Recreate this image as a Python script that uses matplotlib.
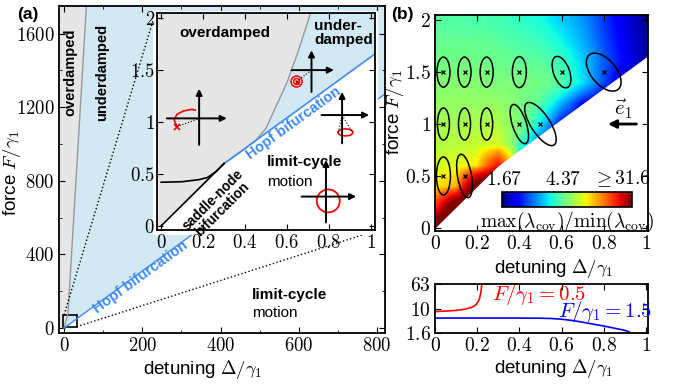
import numpy as np
import matplotlib
matplotlib.use('Agg')
import matplotlib.pyplot as plt
import matplotlib.colors as mcolors
from matplotlib.patches import Ellipse, Rectangle
from matplotlib.transforms import ScaledTranslation

plt.rcParams['font.family'] = ['Liberation Sans', 'DejaVu Sans']
plt.rcParams['mathtext.fontset'] = 'cm'
plt.rcParams['xtick.direction'] = 'in'
plt.rcParams['ytick.direction'] = 'in'
plt.rcParams['xtick.top'] = True
plt.rcParams['ytick.right'] = True

GRAY = '#e6e6e6'
LBLUE = '#d2e8f3'
HBLUE = '#3d8af0'

# ---- (a) main phase diagram
main_gray_x = [0, 10, 58.4]          # over/underdamped border
main_gray_y = [0, 80, 1800]
main_hopf_x = [0, 900]               # Hopf line
main_hopf_y = [0, 1396]
zoom_box = (-2, 7, 34, 64)           # x, y, w, h
dot1_x, dot1_y = [0, 233], [71, 1712]
dot2_x, dot2_y = [32, 790], [7, 525]
main_xticks = [0, 200, 400, 600, 800]
main_yticks = [0, 400, 800, 1200, 1600]

# ---- (a) inset
sn_x, sn_y = [0, 0.3], [0, 0.6]
od_x = [0.3, 0.35, 0.4, 0.45, 0.5, 0.55, 0.6, 0.65, 0.7, 0.72]
od_y = [0.6, 0.67, 0.74, 0.82, 0.94, 1.16, 1.38, 1.66, 1.97, 2.1]
hopf_x, hopf_y = [0.3, 1.05], [0.6, 1.70]
bist_x = [0, 0.1, 0.18, 0.22, 0.26, 0.3]
bist_y = [0.42, 0.425, 0.445, 0.465, 0.52, 0.6]
inset_xticks = [0, 0.2, 0.4, 0.6, 0.8, 1]
inset_yticks = [0, 0.5, 1, 1.5, 2]
# small phase-space sketches: centre, horizontal arrow, vertical arrow
icon_cx = [0.181, 0.717, 0.863, 0.786]
icon_cy = [1.035, 1.5, 1.067, 0.282]
icon_x0 = [0.027, 0.622, 0.765, 0.67]
icon_x1 = [0.313, 0.824, 0.992, 0.93]
icon_y0 = [0.78, 1.29, 0.795, 0.032]
icon_y1 = [1.32, 1.69, 1.29, 0.635]
hook_x = [0.075, 0.062, 0.075, 0.106, 0.146, 0.162]
hook_y = [0.955, 1.02, 1.074, 1.106, 1.122, 1.115]
spiral_c = (0.646, 1.39)
small_cycle_c = (0.879, 0.90)
big_cycle_c = (0.797, 0.24)

# ---- (b) covariance eigenvalue ratio map
det_grid = [0, 0.1, 0.2, 0.3, 0.4, 0.5, 0.6, 0.7, 0.8, 0.9, 1.0]
force_grid = [0, 0.2, 0.4, 0.6, 0.8, 1.0, 1.2, 1.4, 1.6, 1.8, 2.0]
ratio_grid = [
    [40, 40, 40, 40, 21.8, 7.1, 3.09, 2.05, 1.67, 1.67, 1.67],
    [18.0, 40, 40, 40, 18.0, 4.89, 2.51, 1.85, 1.67, 1.67, 1.67],
    [9.0, 11.0, 40, 40, 10.3, 3.79, 2.27, 1.85, 1.67, 1.67, 1.67],
    [7.1, 7.65, 9.0, 21.8, 2.79, 3.09, 2.05, 1.78, 1.67, 1.67, 1.67],
    [6.3, 6.5, 6.84, 7.4, 3.95, 2.51, 2.05, 1.74, 1.67, 1.67, 1.67],
    [5.89, 5.89, 6.11, 6.11, 4.89, 3.42, 2.13, 1.85, 1.67, 1.67, 1.67],
    [5.47, 5.47, 5.47, 5.47, 4.89, 4.19, 3.09, 2.13, 1.78, 1.67, 1.67],
    [5.07, 5.07, 5.07, 4.89, 4.89, 4.71, 4.19, 3.42, 2.51, 1.78, 1.67],
    [4.71, 4.71, 4.71, 4.54, 4.37, 4.28, 3.95, 3.28, 2.62, 2.13, 1.78],
    [4.37, 4.37, 4.37, 4.28, 4.11, 3.95, 3.56, 3.09, 2.51, 2.05, 1.78],
    [4.19, 4.19, 4.11, 4.03, 3.86, 3.63, 3.28, 2.92, 2.41, 2.01, 1.74],
]
bnd_x = [-0.01, 0.3, 1.05]
bnd_y = [-0.02, 0.6, 1.718]
cb_vals = [1.67, 4.37, 31.6]
cb_pos = [0.0, 0.47, 1.0]
cb_text = ['$1.67$', '$4.37$', r'$\geq 31.6$']
cb_text_x = [0.02, 0.47, 0.92]
# noise ellipses: centre, size in pixels, angle
ell_x = [0.04, 0.14, 0.245, 0.4, 0.6, 0.8, 0.04, 0.14, 0.245, 0.4, 0.5, 0.04, 0.14]
ell_y = [1.5, 1.5, 1.5, 1.5, 1.5, 1.5, 1, 1, 1, 1, 1, 0.5, 0.5]
ell_w = [13, 13, 13, 14, 16, 45, 12, 12, 12, 14, 50, 14, 14]
ell_h = [30, 30, 30, 31, 33, 25, 32, 32, 32, 41, 19, 38, 44]
ell_a = [0, 0, 0, 0, 20, -50, 0, 0, 0, 18, -57, 0, 10]
b_xticks = [0, 0.2, 0.4, 0.6, 0.8, 1]
b_yticks = [0, 0.5, 1, 1.5, 2]

# ---- (b) bottom: ratio along two cuts
red_x = [0, 0.05, 0.1, 0.14, 0.17, 0.19, 0.2, 0.21, 0.217, 0.222]
red_y = [8.0, 8.3, 8.7, 9.5, 10.7, 12.5, 15, 20, 32, 63]
blue_x = [0, 0.2, 0.4, 0.5, 0.55, 0.6, 0.65, 0.7, 0.75, 0.8, 0.85, 0.9, 0.92]
blue_y = [4.9, 4.9, 4.9, 4.85, 4.75, 4.5, 4.1, 3.6, 3.1, 2.7, 2.3, 1.95, 1.75]

W, H = 678, 386
fig = plt.figure(figsize=(W / 100, H / 100), dpi=100)


def box(l, t, r, b):
    return [l / W, 1 - b / H, (r - l) / W, (b - t) / H]


def mlab(v):
    return ['$%g$' % t for t in v]


def style(a, size=13):
    a.tick_params(which='both', direction='in', top=True, right=True, labelsize=size, pad=3)
    a.tick_params(which='major', length=4, width=0.8)
    a.tick_params(which='minor', length=2, width=0.6)
    for s in a.spines.values():
        s.set_linewidth(1.3)


def px_patch(a, x, y, w, h, ang=0, **kw):
    tr = fig.dpi_scale_trans + ScaledTranslation(x, y, a.transData)
    a.add_patch(Ellipse((0, 0), w / 100, h / 100, angle=ang, transform=tr, **kw))


# ================= (a) =================
ax = fig.add_axes(box(59, 6, 385, 333))
ax.fill_betweenx(main_gray_y, -50, main_gray_x, color=GRAY, lw=0)
ax.fill(main_gray_x + [900, 900, 0], main_gray_y + [1800, main_hopf_y[1], 0], color=LBLUE, lw=0)
ax.plot(main_gray_x, main_gray_y, color='#999999', lw=1)
ax.plot(main_hopf_x, main_hopf_y, color=HBLUE, lw=1)
ax.add_patch(Rectangle(zoom_box[:2], zoom_box[2], zoom_box[3], fill=False, ec='k', lw=1.2))
ax.plot(dot1_x, dot1_y, 'k:', lw=1)
ax.plot(dot2_x, dot2_y, 'k:', lw=1)
ax.text(15, 1390, 'overdamped', rotation=90, ha='center', va='center', fontweight='bold', fontsize=10.5)
ax.text(97, 1390, 'underdamped', rotation=90, ha='center', va='center', fontweight='bold', fontsize=10.5)
ax.text(196, 275, 'Hopf bifurcation', rotation=36, ha='center', va='center', rotation_mode='anchor',
        color=HBLUE, fontweight='bold', fontsize=10.5)
ax.text(481, 179, 'limit-cycle', ha='left', va='center', fontweight='bold', fontsize=11)
ax.text(481, 81, 'motion', ha='left', va='center', fontsize=11)
ax.set_xlim(-13, 820)
ax.set_ylim(-27, 1750)
ax.set_xticks(main_xticks, mlab(main_xticks))
ax.set_yticks(main_yticks, mlab(main_yticks))
ax.set_xticks([100, 300, 500, 700], minor=True)
ax.set_yticks([200, 600, 1000, 1400], minor=True)
style(ax, 13.5)
ax.set_xlabel(r'detuning $\Delta/\gamma_1$', fontsize=13.5)
ax.set_ylabel(r'force $F/\gamma_1$', fontsize=13.5)
ax.xaxis.set_label_coords(0.44, -0.075)
ax.yaxis.set_label_coords(-0.11, 0.49)

# inset
fig.patches.append(Rectangle((153 / W, 1 - 235 / H), 225 / W, 224 / H, transform=fig.transFigure,
                             facecolor='white', edgecolor='none', zorder=2))
axi = fig.add_axes(box(157, 13, 375, 230))
axi.set_zorder(3)
axi.fill([-0.05, 0] + od_x + [-0.05], [0, 0] + od_y + [2.1], color=GRAY, lw=0)
axi.fill(od_x + [1.05, 1.05], od_y + [2.1, hopf_y[1]], color=LBLUE, lw=0)
axi.plot(od_x, od_y, color='#999999', lw=1)
axi.plot(hopf_x, hopf_y, color=HBLUE, lw=1.2)
axi.plot(sn_x, sn_y, color='k', lw=1.2)
axi.plot(bist_x, bist_y, color='k', lw=1.2)
for cx, cy, x0, x1, y0, y1 in zip(icon_cx, icon_cy, icon_x0, icon_x1, icon_y0, icon_y1):
    ap = dict(arrowstyle='-|>', color='k', lw=1.4, mutation_scale=9, shrinkA=0, shrinkB=0)
    axi.annotate('', xy=(x1, cy), xytext=(x0, cy), arrowprops=ap)
    axi.annotate('', xy=(cx, y1), xytext=(cx, y0), arrowprops=ap)
axi.plot(hook_x, hook_y, color='red', lw=1.2)
axi.plot(hook_x[0], hook_y[0], 'x', color='red', ms=4, mew=1.2)
axi.plot([hook_x[0], icon_cx[0]], [hook_y[0], icon_cy[0]], 'k:', lw=0.8)
px_patch(axi, *spiral_c, 11, 11, fill=False, ec='red', lw=1.1)
px_patch(axi, *spiral_c, 6, 6, fill=False, ec='red', lw=1.1)
axi.plot(*spiral_c, 'x', color='red', ms=3, mew=1)
axi.plot([spiral_c[0], icon_cx[1]], [spiral_c[1], icon_cy[1]], 'k:', lw=0.8)
px_patch(axi, *small_cycle_c, 15, 7, fill=False, ec='red', lw=1.2)
axi.plot([small_cycle_c[0] - 0.034, icon_cx[2], small_cycle_c[0] + 0.034],
         [small_cycle_c[1], icon_cy[2], small_cycle_c[1]], 'k:', lw=0.8)
px_patch(axi, *big_cycle_c, 23, 23, fill=False, ec='red', lw=1.3)
axi.text(0.305, 1.86, 'overdamped', ha='center', va='center', fontweight='bold', fontsize=11)
axi.text(0.73, 1.86, 'under-\ndamped', ha='left', va='center', fontweight='bold', fontsize=11,
         linespacing=1.0)
axi.text(0.63, 0.99, 'Hopf bifurcation', rotation=36, ha='center', va='center', rotation_mode='anchor',
         color=HBLUE, fontweight='bold', fontsize=10.5)
axi.text(0.505, 0.615, 'limit-cycle', ha='left', va='center', fontweight='bold', fontsize=11)
axi.text(0.505, 0.42, 'motion', ha='left', va='center', fontsize=11)
axi.text(0.27, 0.205, 'saddle-node\nbifurcation', rotation=45, ha='center', va='center',
         rotation_mode='anchor', fontweight='bold', fontsize=9.8, linespacing=0.95)
axi.set_xlim(-0.02, 1.02)
axi.set_ylim(-0.04, 2.05)
axi.set_xticks(inset_xticks, mlab(inset_xticks))
axi.set_yticks(inset_yticks, mlab(inset_yticks))
style(axi, 13.5)
axi.tick_params(axis='y', pad=1.5)

# ================= (b) =================
def fwd(v):
    return np.interp(np.log(v), np.log(cb_vals), cb_pos)


def inv(p):
    return np.exp(np.interp(p, cb_pos, np.log(cb_vals)))


norm = mcolors.FuncNorm((fwd, inv), vmin=cb_vals[0], vmax=cb_vals[-1])

axb = fig.add_axes(box(435, 15, 648, 231))
dx = (det_grid[1] - det_grid[0]) / 2
dy = (force_grid[1] - force_grid[0]) / 2
im = axb.imshow(np.array(ratio_grid), origin='lower', aspect='auto', cmap='jet', norm=norm,
                extent=(det_grid[0] - dx, det_grid[-1] + dx, force_grid[0] - dy, force_grid[-1] + dy),
                interpolation='bilinear', interpolation_stage='data', zorder=0)
axb.fill_between(bnd_x, bnd_y, -0.5, color='white', lw=0, zorder=1)
for x0, y0, w, h, a in zip(ell_x, ell_y, ell_w, ell_h, ell_a):
    px_patch(axb, x0, y0, w, h, a, fill=False, ec='k', lw=1.1, zorder=3)
axb.plot(ell_x, ell_y, 'kx', ms=2.5, mew=0.9, zorder=4)
axb.annotate('', xy=(0.82, 1.0), xytext=(0.955, 1.0),
             arrowprops=dict(arrowstyle='-|>', color='k', lw=2, mutation_scale=12, shrinkA=0, shrinkB=0))
axb.text(0.895, 1.14, r'$\vec{e}_1$', ha='center', va='center', fontsize=15)
axb.set_xlim(0, 1.01)
axb.set_ylim(-0.03, 2.05)
axb.set_xticks(b_xticks, mlab(b_xticks))
axb.set_yticks(b_yticks, mlab(b_yticks))
style(axb, 14)
axb.set_xlabel(r'detuning $\Delta/\gamma_1$', fontsize=13.5)
axb.set_ylabel(r'force $F/\gamma_1$', fontsize=13.5)
axb.xaxis.set_label_coords(0.555, -0.12)
axb.yaxis.set_label_coords(-0.135, 0.55)

cax = fig.add_axes(box(502, 192, 632, 207))
cb = fig.colorbar(im, cax=cax, orientation='horizontal')
cb.set_ticks([])
cb.outline.set_linewidth(1.2)
for t, xp in zip(cb_text, cb_text_x):
    cax.text(xp, 1.2, t, transform=cax.transAxes, ha='center', va='bottom', fontsize=14)
cb.set_label(r'$\max(\lambda_{\rm cov})/\min(\lambda_{\rm cov})$', fontsize=14, labelpad=2)
cax.xaxis.set_label_position('bottom')

axc = fig.add_axes(box(435, 284, 648, 333))
axc.plot(red_x, red_y, color='red', lw=1.2)
axc.plot(blue_x, blue_y, color='blue', lw=1.2)
axc.set_yscale('log')
axc.set_xlim(0, 1.01)
axc.set_ylim(1.6, 63)
axc.set_xticks(b_xticks, mlab(b_xticks))
axc.set_yticks([1.6, 10, 63], ['$1.6$', '$10$', '$63$'])
axc.minorticks_off()
style(axc, 14)
axc.text(0.49, 0.79, r'$F/\gamma_1 = 0.5$', color='red', transform=axc.transAxes,
         ha='center', va='center', fontsize=15)
axc.text(0.80, 0.43, r'$F/\gamma_1 = 1.5$', color='blue', transform=axc.transAxes,
         ha='center', va='center', fontsize=15)
axc.set_xlabel(r'detuning $\Delta/\gamma_1$', fontsize=13.5)
axc.xaxis.set_label_coords(0.555, -0.5)

fig.text(17 / W, 1 - 14 / H, '(a)', fontweight='bold', fontsize=12.5, ha='left', va='center')
fig.text(391 / W, 1 - 14 / H, '(b)', fontweight='bold', fontsize=12.5, ha='left', va='center')

fig.savefig('out.png', dpi=100)
